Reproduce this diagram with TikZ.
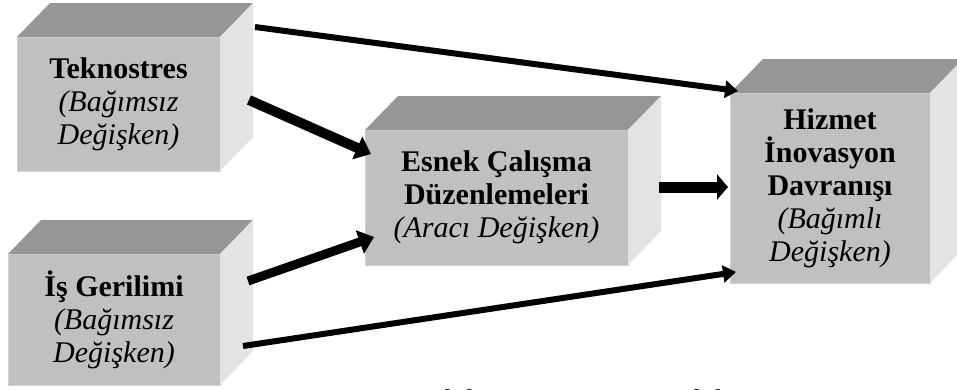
\documentclass[tikz,border=0pt]{standalone}
\usepackage{fontspec}
\setmainfont{Liberation Serif}
\usetikzlibrary{arrows.meta,calc}
\definecolor{frontc}{HTML}{C0C0C0}
\definecolor{topc}{HTML}{969696}
\definecolor{sidec}{HTML}{E3E3E3}
\definecolor{edgec}{HTML}{D2D2D2}
\tikzset{
  cubebox/.style={fill=frontc, draw=edgec, line width=1pt, inner sep=0pt, outer sep=0pt,
    align=center, font=\fontsize{30}{33}\selectfont},
  thinarrow/.style={line width=6pt, -{Triangle[length=13pt,width=17pt]}},
  midarrow/.style={line width=9pt, -{Triangle[length=15pt,width=24pt]}},
  fatarrow/.style={line width=11pt, -{Triangle[length=11pt,width=25pt]}}
}
\newcommand{\cubefaces}[1]{%
  \fill[topc] (#1.north west) -- ($(#1.north west)+(33,-34)$) -- ($(#1.north east)+(33,-34)$) -- (#1.north east) -- cycle;
  \fill[sidec] (#1.north east) -- ($(#1.north east)+(33,-34)$) -- ($(#1.south east)+(33,-34)$) -- (#1.south east) -- cycle;
}
\begin{document}
\begin{tikzpicture}[x=1pt,y=-1pt]
\useasboundingbox (0,0) rectangle (957,389);
\clip (0,0) rectangle (957,389);
\fill[white] (0,0) rectangle (957,389);

% boxes
\node[cubebox, minimum width=203pt, minimum height=134pt] (t) at (118.5,104)
  {\textbf{Teknostres}\\ \textit{(Bağımsız}\\ \textit{Değişken)}};
\node[cubebox, minimum width=212pt, minimum height=131pt] (g) at (114,319.5)
  {\textbf{İş Gerilimi}\\ \textit{(Bağımsız}\\ \textit{Değişken)}};
\node[cubebox, minimum width=263pt, minimum height=135pt] (e) at (496.5,197.5)
  {\textbf{Esnek Çalışma}\\ \textbf{Düzenlemeleri}\\ \textit{(Aracı Değişken)}};
\node[cubebox, minimum width=200pt, minimum height=190pt] (h) at (830,188)
  {\textbf{Hizmet}\\ \textbf{İnovasyon}\\ \textbf{Davranışı}\\ \textit{(Bağımlı}\\ \textit{Değişken)}};
\cubefaces{t}
\cubefaces{g}
\cubefaces{e}
\cubefaces{h}

% connector end points
\coordinate (t1) at (255,27);
\coordinate (h1) at (738,91);
\coordinate (t2) at (249,100);
\coordinate (e2) at (371,154);
\coordinate (g3) at (248,281);
\coordinate (e3) at (374,237);
\coordinate (g4) at (243,346);
\coordinate (h4) at (736,272);
\coordinate (e5) at (659,187);
\coordinate (h5) at (728,187);

\draw[thinarrow] (t1) -- (h1);
\draw[midarrow, line width=10pt] (t2) -- (e2);
\draw[midarrow] (g3) -- (e3);
\draw[thinarrow] (g4) -- (h4);
\draw[fatarrow] (e5) -- (h5);

% caption (cut off at the lower edge, as in the reference)
\node[anchor=base west, inner sep=0pt, font=\itshape\fontsize{30}{33}\selectfont] (cap) at (414,410) {Şekil 1: Araştırma Modeli};
\end{tikzpicture}
\end{document}
